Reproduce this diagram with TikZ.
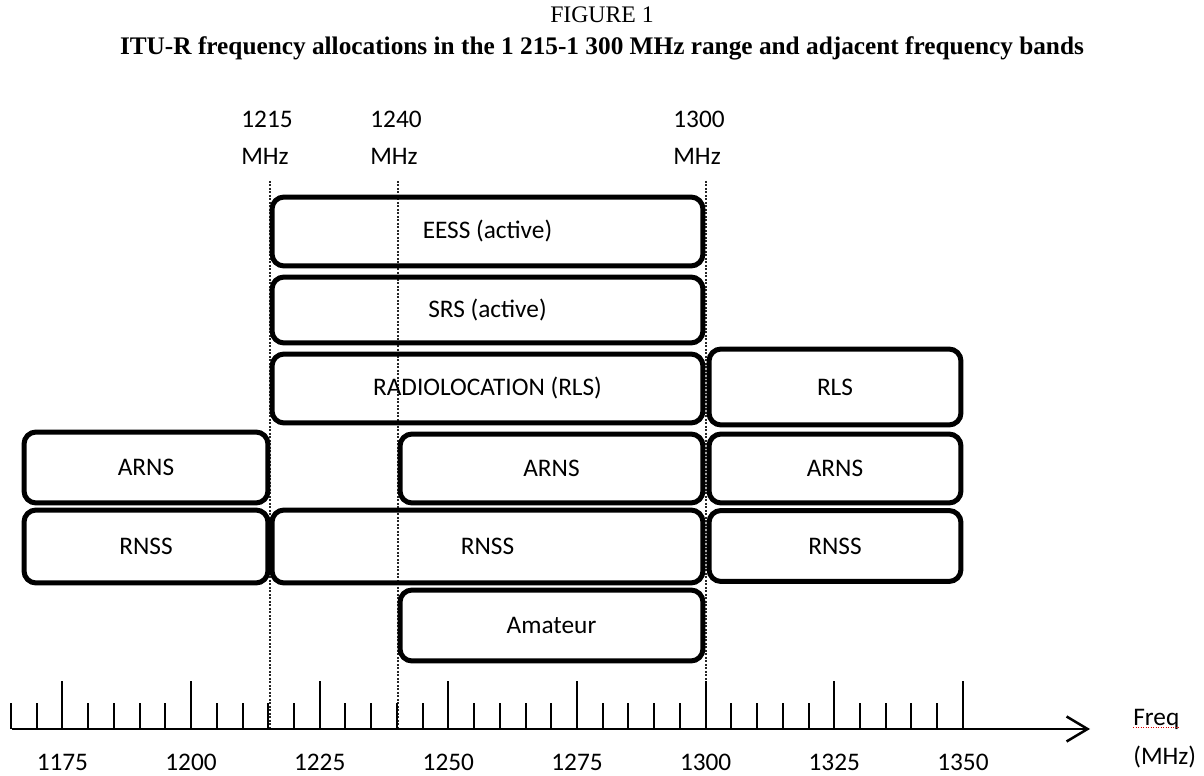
\documentclass[tikz,border=0pt]{standalone}
\usepackage{fontspec}
\setmainfont{Liberation Serif}
\newfontfamily\calib{Carlito}
\usetikzlibrary{arrows.meta,positioning}

\begin{document}
\begin{tikzpicture}[
  x=0.02cm, y=-0.02cm,
  band/.style={rectangle, draw=black, line width=0.1cm, rounded corners=0.24cm,
    minimum height=1.38cm, inner sep=0pt, font=\calib\fontsize{14.4}{17}\selectfont},
  wide/.style={minimum width=8.62cm},
  half/.style={minimum width=6.06cm},
  side/.style={minimum width=5.04cm},
  lside/.style={minimum width=4.88cm},
  guide/.style={black!85, line width=0.025cm, dash pattern=on 0.04cm off 0.03cm},
  axisline/.style={line width=0.04cm, -{Straight Barb[length=0.42cm, width=0.5cm, line width=0.05cm]}},
  minortick/.style={line width=0.04cm},
  majortick/.style={line width=0.04cm},
  toplbl/.style={font=\calib\fontsize{14.4}{21}\selectfont, inner sep=0pt},
  ticklbl/.style={font=\calib\fontsize{14.4}{17}\selectfont, inner sep=0pt},
  spell/.style={red!85!black, line width=0.02cm, dash pattern=on 0.02cm off 0.03cm},
]
\useasboundingbox (0,0) rectangle (1204,776);

% title
\node[font=\fontsize{13.5}{16}\selectfont, anchor=base] (fig) at (602,23) {FIGURE 1};
\node[font=\bfseries\fontsize{14.4}{17}\selectfont, anchor=base] (caption) at (602,55)
  {ITU-R frequency allocations in the 1 215-1 300 MHz range and adjacent frequency bands};

% band edges
\node[toplbl, anchor=base west] (n1215) at (241,128) {1215};
\node[toplbl, anchor=base west] (m1215) at ([yshift=-0.74cm]n1215.base west) {MHz};
\node[toplbl, anchor=base west] (n1240) at (370,128) {1240};
\node[toplbl, anchor=base west] (m1240) at ([yshift=-0.74cm]n1240.base west) {MHz};
\node[toplbl, anchor=base west] (n1300) at (673,128) {1300};
\node[toplbl, anchor=base west] (m1300) at ([yshift=-0.74cm]n1300.base west) {MHz};

\coordinate (g1215) at (270,181);
\coordinate (g1240) at (398,181);
\coordinate (g1300) at (706,181);
\coordinate (ax0) at (11.5,729);
\coordinate (ax1) at (1090,729);
\draw[guide] (g1215) -- (g1215 |- ax0);
\draw[guide] (g1240) -- (g1240 |- ax0);
\draw[guide] (g1300) -- (g1300 |- ax0);

% allocations
\node[band, wide] (eess) at (487.5,231.5) {EESS (active)};
\node[band, wide, minimum height=1.32cm] (srs) at (487.5,310) {SRS (active)};
\node[band, wide] (rloc) at (487.5,388.5) {RADIOLOCATION (RLS)};
\node[band, side, minimum height=1.52cm] (rls) at (835,387) {RLS};
\node[band, lside, minimum height=1.42cm] (arnsl) at (146,467.5) {ARNS};
\node[band, half] (arnsm) at (551.5,468.5) {ARNS};
\node[band, side] (arnsr) at (835,468.5) {ARNS};
\node[band, lside, minimum height=1.46cm] (rnssl) at (146,546.5) {RNSS};
\node[band, wide, minimum height=1.46cm] (rnssm) at (487.5,546.5) {RNSS};
\node[band, side, minimum height=1.42cm] (rnssr) at (835,546) {RNSS};
\node[band, half, minimum height=1.42cm] (amat) at (551.5,625.5) {Amateur};

% frequency axis
\draw[axisline] (ax0) -- (ax1);
\foreach \f in {1165,1170,...,1350} {
  \pgfmathsetmacro{\xx}{62.4+(\f-1175)*5.146}
  \pgfmathtruncatemacro{\rem}{mod(\f,25)}
  \ifnum\rem=0
    \draw[majortick] (\xx,729) -- ++(0,-48);
  \else
    \draw[minortick] (\xx,729) -- ++(0,-26);
  \fi
}
\foreach \f in {1175,1200,...,1350} {
  \pgfmathsetmacro{\xx}{62.4+(\f-1175)*5.146}
  \node[ticklbl, anchor=base] (t\f) at (\xx,770) {\f};
}
\node[ticklbl, anchor=base west] (freq) at (1133,725) {Freq};
\node[ticklbl, anchor=base west] (unit) at (1133,765) {(MHz)};
\draw[spell] ([yshift=-0.05cm]freq.base west) -- ([yshift=-0.05cm]freq.base east);
\end{tikzpicture}
\end{document}
